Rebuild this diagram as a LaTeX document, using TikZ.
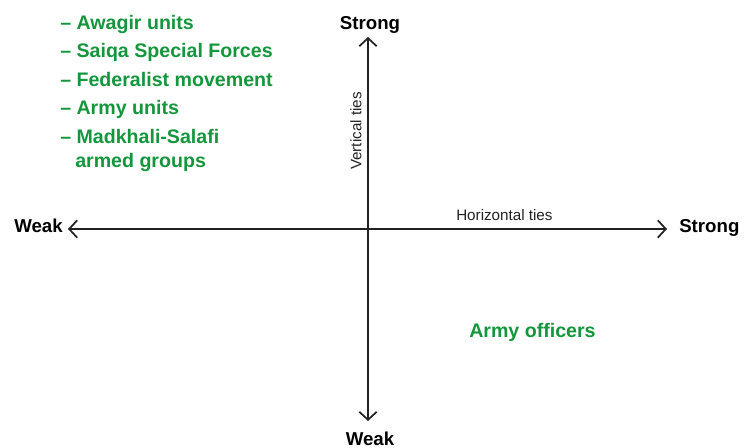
\documentclass[tikz,border=0pt]{standalone}
\usepackage{fontspec}
\setmainfont{Liberation Sans}
\usetikzlibrary{arrows.meta}
\definecolor{grn}{RGB}{20,150,60}
\definecolor{axis}{RGB}{34,34,34}
\begin{document}
\begin{tikzpicture}[x=0.75pt,y=-0.75pt,
  axisline/.style={draw=axis,line width=1.5pt,{Straight Barb[length=6pt,width=13pt,line width=1.3pt]}-{Straight Barb[length=6pt,width=13pt,line width=1.3pt]}},
  endlabel/.style={font=\fontsize{14}{16}\selectfont\bfseries,text=black,inner sep=0pt},
  tieslabel/.style={font=\fontsize{11.4}{13}\selectfont,text=axis,inner sep=0pt},
  grnitem/.style={font=\fontsize{14.7}{17}\selectfont\bfseries,text=grn,inner sep=0pt,anchor=base west}]
\useasboundingbox (0,0) rectangle (744,448);
% axis ends
\coordinate (top) at (368,37);
\coordinate (bottom) at (368,421);
\coordinate (left) at (68,229);
\coordinate (right) at (667,229);
\draw[axisline] (left) -- (right);
\draw[axisline] (bottom) -- (top);
% end labels
\node[endlabel,anchor=base] (strongtop) at (370,30) {Strong};
\node[endlabel,anchor=base] (weakbottom) at (370,446) {Weak};
\node[endlabel,anchor=base west] (weakleft) at (14,233) {Weak};
\node[endlabel,anchor=base west] (strongright) at (679,233) {Strong};
% ties labels
\node[tieslabel,anchor=base west] (htie) at (456,221) {Horizontal ties};
\node[tieslabel,rotate=90] (vtie) at (356,131) {Vertical ties};
% green list
\node[grnitem] (g1) at (60,30) {– Awagir units};
\node[grnitem] (g2) at (60,58) {– Saiqa Special Forces};
\node[grnitem] (g3) at (60,87) {– Federalist movement};
\node[grnitem] (g4) at (60,115) {– Army units};
\node[grnitem] (g5) at (60,144) {– Madkhali-Salafi};
\node[grnitem] (g6) at (75,168) {armed groups};
\node[grnitem] (officers) at (469,338) {Army officers};
\end{tikzpicture}
\end{document}
